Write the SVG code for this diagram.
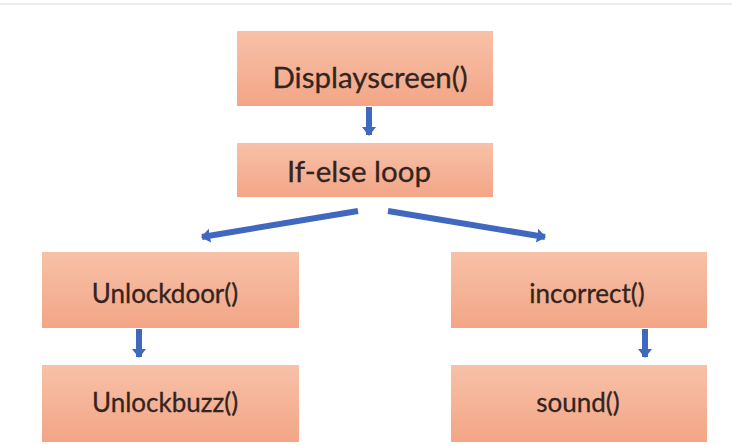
<svg xmlns="http://www.w3.org/2000/svg" width="732" height="445" viewBox="0 0 732 445">
  <style>
    .box { fill: url(#g); }
    .lbl { font-family: Lato, "Open Sans", "Liberation Sans", sans-serif; fill: #33241f; text-anchor: middle; stroke: #33241f; stroke-width: 0.3; }
    .big { font-size: 29.5px; }
    .sm { font-size: 26px; }
    .conn { stroke: #4068BE; stroke-width: 6; fill: none; }
  </style>
  <defs>
    <linearGradient id="g" x1="0" y1="0" x2="0" y2="1">
      <stop offset="0" stop-color="#F7C1A8"/>
      <stop offset="1" stop-color="#F3A586"/>
    </linearGradient>
    <marker id="ah" markerUnits="userSpaceOnUse" markerWidth="16" markerHeight="16" refX="8" refY="8" orient="auto">
      <path d="M0,1 L9,8 L0,15 Z" fill="#4068BE"/>
    </marker>
  </defs>
  <rect x="0" y="0" width="732" height="445" fill="#ffffff"/>
  <rect x="0" y="3" width="732" height="2" fill="#ececec"/>

  <g id="displayscreen">
    <rect class="box" x="237" y="31" width="256" height="75"/>
    <text class="lbl big" x="370" y="88">Displayscreen()</text>
  </g>
  <g id="ifelse">
    <rect class="box" x="237" y="143" width="256" height="54"/>
    <text class="lbl big" x="359" y="182">If-else loop</text>
  </g>
  <g id="unlockdoor">
    <rect class="box" x="42" y="252" width="257" height="76"/>
    <text class="lbl sm" x="165" y="303">Unlockdoor()</text>
  </g>
  <g id="unlockbuzz">
    <rect class="box" x="42" y="365" width="257" height="77"/>
    <text class="lbl sm" x="165" y="412">Unlockbuzz()</text>
  </g>
  <g id="incorrect">
    <rect class="box" x="451" y="252" width="256" height="76"/>
    <text class="lbl sm" x="587" y="303">incorrect()</text>
  </g>
  <g id="sound">
    <rect class="box" x="451" y="365" width="256" height="77"/>
    <text class="lbl sm" x="578" y="412">sound()</text>
  </g>

  <g id="connectors">
    <line class="conn" x1="369" y1="107" x2="369" y2="135" marker-end="url(#ah)"/>
    <line class="conn" x1="139" y1="329" x2="139" y2="357" marker-end="url(#ah)"/>
    <line class="conn" x1="645" y1="329" x2="645" y2="357" marker-end="url(#ah)"/>
    <line class="conn" x1="358" y1="211" x2="202" y2="237" marker-end="url(#ah)"/>
    <line class="conn" x1="388" y1="211" x2="545" y2="237" marker-end="url(#ah)"/>
  </g>
</svg>
